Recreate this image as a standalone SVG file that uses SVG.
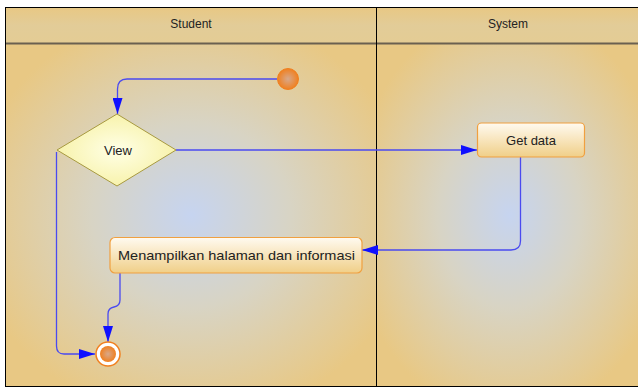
<svg xmlns="http://www.w3.org/2000/svg" width="638" height="389" viewBox="0 0 638 389">
<defs>
<radialGradient id="lane" cx="0.5" cy="0.5" r="0.6">
<stop offset="0" stop-color="#c6d4f0"/>
<stop offset="0.45" stop-color="#d8d4c4"/>
<stop offset="1" stop-color="#e8c884"/>
</radialGradient>
<linearGradient id="hdr" x1="0" y1="0" x2="0" y2="1">
<stop offset="0" stop-color="#e8c884"/>
<stop offset="0.5" stop-color="#e2cc98"/>
<stop offset="1" stop-color="#e4cc94"/>
</linearGradient>
<linearGradient id="act" x1="0" y1="0" x2="0" y2="1">
<stop offset="0" stop-color="#fffaf0"/>
<stop offset="1" stop-color="#f0cf88"/>
</linearGradient>
<radialGradient id="dia" cx="0.5" cy="0.5" r="0.6">
<stop offset="0" stop-color="#ffffe6"/>
<stop offset="1" stop-color="#f6f0a0"/>
</radialGradient>
<radialGradient id="dot" cx="0.5" cy="0.5" r="0.5">
<stop offset="0" stop-color="#d8a88a"/>
<stop offset="1" stop-color="#f08020"/>
</radialGradient>
<marker id="arr" viewBox="0 0 16 10" refX="16" refY="5" markerWidth="16" markerHeight="10" markerUnits="userSpaceOnUse" orient="auto">
<path d="M0,0 L16,5 L0,10 Z" fill="#1010ff"/>
</marker>
<style>
.conn{fill:none;stroke:#4a4af0;stroke-width:1.3}
.lbl{font-family:"Liberation Sans",Arial,sans-serif;font-size:13px;fill:#222;text-anchor:middle;dominant-baseline:central}
.hd{font-family:"Liberation Sans",Arial,sans-serif;font-size:12px;fill:#222;text-anchor:middle;dominant-baseline:central}
.box{fill:url(#act);stroke:#f0a040;stroke-width:1.2}
</style>
</defs>
<rect width="638" height="389" fill="#ffffff"/>
<g id="lane-student">
<rect x="5.5" y="43.5" width="371" height="343" fill="url(#lane)"/>
<rect x="5.5" y="7.5" width="371" height="36" fill="url(#hdr)"/>
<text class="hd" x="191" y="24">Student</text>
</g>
<g id="lane-system">
<rect x="376.5" y="43.5" width="266" height="343" fill="url(#lane)"/>
<rect x="376.5" y="7.5" width="266" height="36" fill="url(#hdr)"/>
<text class="hd" x="508" y="24">System</text>
</g>
<g id="frame" fill="none">
<line x1="5" y1="43.5" x2="638" y2="43.5" stroke="#6a6050" stroke-width="2"/>
<rect x="5.5" y="7.5" width="640" height="379" stroke="#000" stroke-width="1"/>
<line x1="376.5" y1="7.5" x2="376.5" y2="386.5" stroke="#000" stroke-width="1"/>
</g>
<g id="connectors">
<path class="conn" d="M277,79 H127 Q117.5,79 117.5,89 V114" marker-end="url(#arr)"/>
<path class="conn" d="M176,150 H477" marker-end="url(#arr)"/>
<path class="conn" d="M520.5,157 V241 Q520.5,250 511,250 H362" marker-end="url(#arr)"/>
<path class="conn" d="M120,273 V300 Q120,306 114,307 Q108,308 108,314 V342" marker-end="url(#arr)"/>
<path class="conn" d="M56.5,152 V346 Q56.5,354 64,354 H95" marker-end="url(#arr)"/>
</g>
<g id="start">
<circle cx="288" cy="79" r="10.5" fill="url(#dot)" stroke="#f08020" stroke-width="1"/>
</g>
<g id="view">
<polygon points="117,114 176,150 117,186 57,150" fill="url(#dia)" stroke="#a89a40" stroke-width="1"/>
<text class="lbl" x="118" y="150">View</text>
</g>
<g id="getdata">
<rect class="box" x="477.5" y="123" width="107" height="34" rx="4"/>
<text class="lbl" x="531" y="140">Get data</text>
</g>
<g id="menampilkan">
<rect class="box" x="110" y="237.5" width="252" height="35.5" rx="5"/>
<text class="lbl" x="236.5" y="255" textLength="237" lengthAdjust="spacingAndGlyphs">Menampilkan halaman dan informasi</text>
</g>
<g id="end">
<circle cx="108" cy="354" r="12" fill="#ffffff" stroke="#f08020" stroke-width="1.5"/>
<circle cx="108" cy="354" r="8" fill="url(#dot)"/>
</g>
</svg>
